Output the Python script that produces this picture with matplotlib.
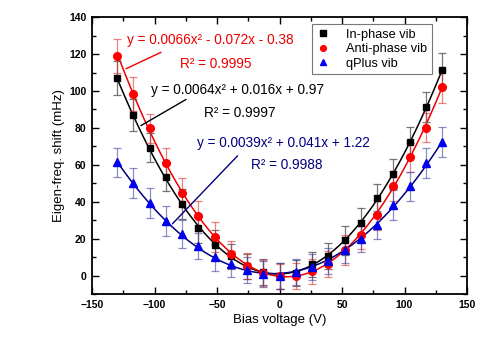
import numpy as np
import matplotlib
matplotlib.use("Agg")
import matplotlib.pyplot as plt
from matplotlib.ticker import MultipleLocator

plt.rcParams['font.family'] = ['Liberation Sans', 'DejaVu Sans']

bias = [-130, -117, -104, -91, -78, -65, -52, -39, -26, -13, 0,
        13, 26, 39, 52, 65, 78, 91, 104, 117, 130]
in_phase = [107, 87, 69.4, 53.7, 38.9, 25.6, 16.8, 10.4, 5.0, 2.2, 0.0,
            1.5, 6.1, 10.8, 19.1, 28.8, 41.8, 55.0, 72.6, 91.2, 111.4]
anti_phase = [119, 98.4, 79.8, 61.0, 45.0, 32.4, 20.9, 11.7, 5.4, 1.4, -0.4,
              -0.3, 2.3, 6.3, 14.0, 22.2, 32.6, 48.6, 64.1, 80.2, 102.3]
qplus = [61.3, 50.1, 39.3, 29.6, 22.7, 16.2, 9.9, 6.3, 3.2, 1.1, 0.0,
         1.8, 4.7, 8.1, 14.0, 19.8, 27.6, 38.4, 48.3, 60.9, 72.3]
err_in = [9, 8.5, 8, 8, 8, 8, 8, 7, 7, 7, 7, 7, 7, 7, 8, 8, 8, 8, 8, 8, 9]
err_anti = [9, 9, 8, 8, 8, 8, 8, 7, 7, 7, 7, 7, 7, 7, 8, 8, 8, 8, 8, 8, 9]
err_q = [8, 8, 8, 8, 7.5, 7, 7.5, 7, 7, 7, 7, 7, 7, 7, 7, 7, 7.5, 8, 8, 8, 8]

fit_in = [0.0064, 0.016, 0.97]
fit_anti = [0.0066, -0.072, -0.38]
fit_q = [0.0039, 0.041, 1.22]

labels = ['In-phase vib', 'Anti-phase vib', 'qPlus vib']

fig = plt.figure(figsize=(5.0, 3.57), dpi=100)
ax = fig.add_axes([0.184, 0.176, 0.750, 0.776])

xf = np.linspace(min(bias), max(bias), 300)
ax.plot(xf, np.polyval(fit_in, xf), color='black', lw=1.1, zorder=2)
ax.plot(xf, np.polyval(fit_anti, xf), color='#ee0000', lw=1.1, zorder=2)
ax.plot(xf, np.polyval(fit_q, xf), color='#000080', lw=1.1, zorder=2)

ax.errorbar(bias, in_phase, yerr=err_in, fmt='none', ecolor='#555555', elinewidth=0.9,
            capsize=3, capthick=0.9, alpha=0.8, zorder=3)
ax.errorbar(bias, anti_phase, yerr=err_anti, fmt='none', ecolor='#e03030', elinewidth=0.9,
            capsize=3, capthick=0.9, alpha=0.6, zorder=3)
ax.errorbar(bias, qplus, yerr=err_q, fmt='none', ecolor='#4040a0', elinewidth=0.9,
            capsize=3, capthick=0.9, alpha=0.6, zorder=3)

ax.plot(bias, in_phase, 's', color='black', ms=5, ls='none', label=labels[0], zorder=4)
ax.plot(bias, anti_phase, 'o', color='#ff0000', ms=5.5, ls='none', label=labels[1], zorder=4)
ax.plot(bias, qplus, '^', color='#0000ee', ms=6, ls='none', label=labels[2], zorder=4)

ax.set_xlim(-150, 150)
ax.set_ylim(-10, 140)
ax.xaxis.set_major_locator(MultipleLocator(50))
ax.xaxis.set_minor_locator(MultipleLocator(25))
ax.yaxis.set_major_locator(MultipleLocator(20))
ax.yaxis.set_minor_locator(MultipleLocator(10))
ax.tick_params(which='both', direction='in', top=True, right=True, labeltop=False,
               labelright=False, width=1.0)
ax.tick_params(which='major', length=5, labelsize=7.5, pad=4)
ax.tick_params(which='minor', length=3)
for lab in ax.get_xticklabels() + ax.get_yticklabels():
    lab.set_fontweight('bold')
for s in ax.spines.values():
    s.set_linewidth(1.3)

ax.set_xlabel('Bias voltage (V)', fontsize=9.5, labelpad=3)
ax.set_ylabel('Eigen-freq. shift (mHz)', fontsize=9.5, labelpad=3)

fs = 9.8
ax.text(-122, 127.5, 'y = 0.0066x² - 0.072x - 0.38', color='#ee0000', fontsize=fs, va='center')
ax.text(-80, 114.5, 'R² = 0.9995', color='#ee0000', fontsize=fs, va='center')
ax.annotate('', xy=(-124.8, 111.4), xytext=(-92.8, 121.6),
            arrowprops=dict(arrowstyle='-', color='#ee0000', lw=1.0))
ax.text(-103, 100.5, 'y = 0.0064x² + 0.016x + 0.97', color='black', fontsize=fs, va='center')
ax.text(-60, 88, 'R² = 0.9997', color='black', fontsize=fs, va='center')
ax.annotate('', xy=(-112.8, 80.5), xytext=(-72.8, 96.2),
            arrowprops=dict(arrowstyle='-', color='black', lw=1.0))
ax.text(-66, 72, 'y = 0.0039x² + 0.041x + 1.22', color='#000080', fontsize=fs, va='center')
ax.text(-23, 60, 'R² = 0.9988', color='#000080', fontsize=fs, va='center')
ax.annotate('', xy=(-87.2, 27), xytext=(-32, 66),
            arrowprops=dict(arrowstyle='-', color='#000080', lw=1.0))

leg = ax.legend(loc='upper left', bbox_to_anchor=(0.587, 0.975), borderaxespad=0,
                fontsize=9.2, frameon=True, fancybox=False, edgecolor='#555555',
                handlelength=1.0, handletextpad=1.3, borderpad=0.35, labelspacing=0.2,
                markerscale=0.75)
leg.get_frame().set_linewidth(0.8)

fig.savefig('out.png', dpi=100)
